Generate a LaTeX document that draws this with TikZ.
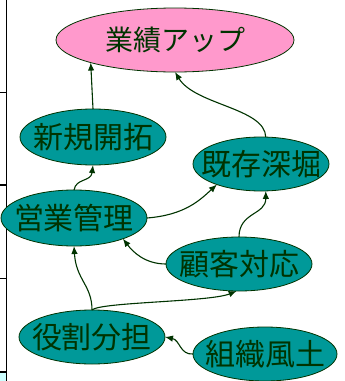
\documentclass[tikz,border=0pt]{standalone}
\usepackage{fontspec}
\newfontfamily\jp{Noto Sans CJK JP}
\usetikzlibrary{shapes.geometric,arrows.meta}
\definecolor{dgreen}{RGB}{0,51,0}
\definecolor{teal2}{RGB}{0,153,153}
\definecolor{pink2}{RGB}{255,153,204}
\definecolor{lblue}{RGB}{204,255,255}
\tikzset{
  bubble/.style={ellipse, draw=dgreen, line width=0.8pt, fill=teal2, inner sep=0pt, outer sep=0pt,
    text=dgreen, font=\jp\fontsize{30}{30}\selectfont},
  goal/.style={bubble, fill=pink2, font=\jp\fontsize{28}{28}\selectfont},
  link/.style={draw=dgreen, line width=1.1pt, -{Latex[length=8pt,width=6.5pt]}},
  tbl/.style={draw=black, line width=1.4pt}
}
\newcommand{\jt}[1]{\makebox[0pt][c]{#1}}
\begin{document}
\begin{tikzpicture}[x=1pt,y=-1pt]
\useasboundingbox (0,0) rectangle (345,381);
% cropped table at left
\fill[lblue] (0,373) rectangle (6,381);
\draw[tbl] (6.5,0) -- (6.5,381);
\draw[tbl] (0,92.5) -- (6.5,92.5);
\draw[tbl] (0,185) -- (6.5,185);
\draw[tbl] (0,278.5) -- (6.5,278.5);
\draw[tbl] (0,372) -- (6.5,372);
% nodes
\node[goal, minimum width=238pt, minimum height=64pt] (up) at (175,40) {\jt{業績アップ}};
\node[bubble, minimum width=146pt, minimum height=56pt] (new) at (93,137) {\jt{新規開拓}};
\node[bubble, minimum width=136pt, minimum height=54pt] (deep) at (261,164) {\jt{既存深堀}};
\node[bubble, minimum width=146pt, minimum height=56pt] (mgmt) at (74,218) {\jt{営業管理}};
\node[bubble, minimum width=146pt, minimum height=54pt] (cust) at (239,264) {\jt{顧客対応}};
\node[bubble, minimum width=146pt, minimum height=54pt] (role) at (92,337) {\jt{役割分担}};
\node[bubble, minimum width=144pt, minimum height=54pt] (culture) at (265,354) {\jt{組織風土}};
% connectors
\draw[link] (new.north) -- (up.195);
\draw[link] (deep.80) .. controls (265,108) and (195,105) .. (up.south);
\draw[link] (mgmt.north) .. controls (76,178) and (91,182) .. (new.south);
\draw[link] (mgmt.east) .. controls (185,215) and (200,200) .. (deep.205);
\draw[link] (cust.north) .. controls (239,212) and (266,215) .. (deep.280);
\draw[link] (cust.west) .. controls (145,264) and (133,252) .. (mgmt.337);
\draw[link] (role.north) .. controls (92,285) and (76,280) .. (mgmt.south);
\draw[link] (role.north) .. controls (100,302) and (210,302) .. (cust.265);
\draw[link] (culture.west) .. controls (180,355) and (180,340) .. (role.east);
\end{tikzpicture}
\end{document}
